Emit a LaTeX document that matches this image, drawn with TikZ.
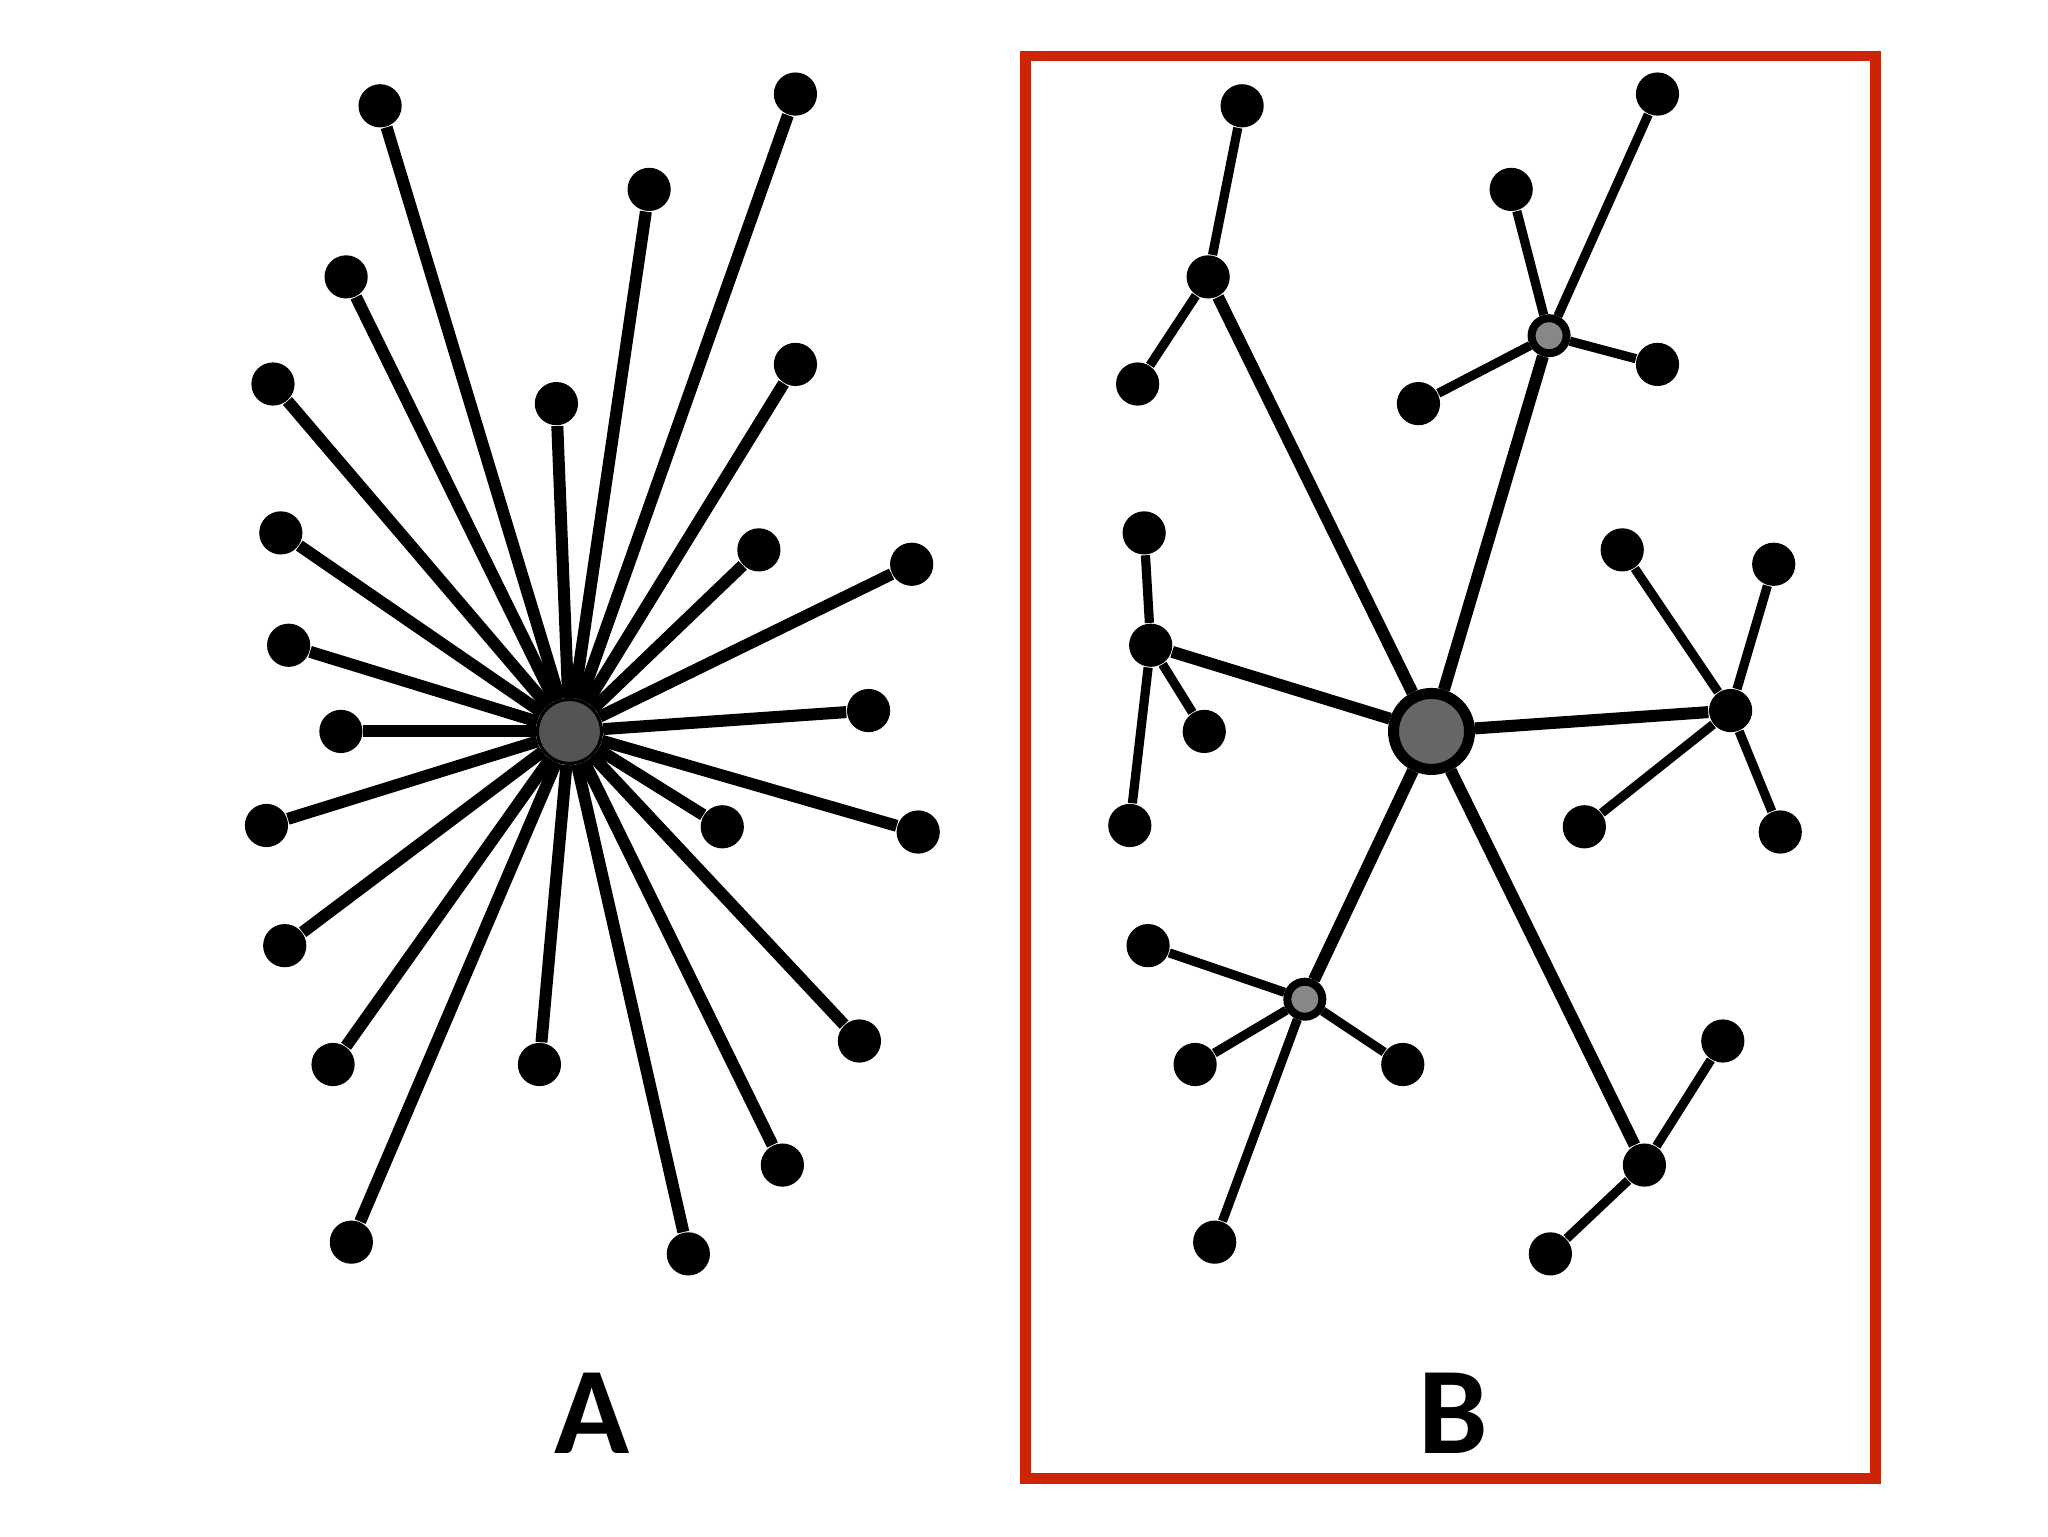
\documentclass[tikz,border=0pt]{standalone}
\usepackage{fontspec}
\setmainfont{Carlito}
\definecolor{frame}{RGB}{204,36,4}
\begin{document}
\begin{tikzpicture}[
    x=0.3265pt, y=-0.3265pt,
    leaf/.style={circle,fill=black,inner sep=0pt,minimum size=10.8pt},
    core/.style={circle,draw=black,line width=0.8pt,fill=black!67,inner sep=0pt,minimum size=16pt},
    hub/.style={circle,draw=black,line width=2.75pt,fill=black!60,inner sep=0pt,minimum size=19pt},
    sub/.style={circle,draw=black,line width=2pt,fill=black!47,inner sep=0pt,minimum size=8.75pt},
    spoke/.style={line width=3pt},
    twig/.style={line width=2.3pt},
    lbl/.style={font=\bfseries\fontsize{31}{31}\selectfont}
]
\useasboundingbox (0,0) rectangle (1568,1176);
% A: every node tied to one centre
\node[core] (a) at (436,560) {};
\foreach \x/\y [count=\i] in {291/81,609/72,497/145,265/212,209/294,426/309,609/279,
    215/408,581/421,698/432,221/494,665/544,261/560,204/632,553/633,703/637,
    218/724,658/797,255/815,413/815,599/892,269/951,527/960} {
  \node[leaf] (a\i) at (\x,\y) {};
  \draw[spoke] (a) -- (a\i);
}
\node[lbl] (labA) at (453,1082) {A};

% B: centre, six local hubs, their leaves
\draw[draw=frame,line width=2.6pt] (785,43) rectangle (1436,1132);
\node[hub] (b) at (1096,560) {};
\node[leaf] (h1) at (925,212) {};
\node[sub] (h2) at (1186,257) {};
\node[leaf] (h3) at (881,494) {};
\node[leaf] (h4) at (1325,544) {};
\node[sub] (h5) at (999,765) {};
\node[leaf] (h6) at (1259,892) {};
\foreach \h in {1,...,6}
  \draw[spoke] (b) -- (h\h);

\node[leaf] (l11) at (951,81) {};
\node[leaf] (l12) at (871,294) {};
\node[leaf] (l21) at (1269,72) {};
\node[leaf] (l22) at (1157,145) {};
\node[leaf] (l23) at (1269,279) {};
\node[leaf] (l24) at (1086,309) {};
\node[leaf] (l31) at (876,408) {};
\node[leaf] (l32) at (922,560) {};
\node[leaf] (l33) at (865,632) {};
\node[leaf] (l41) at (1242,421) {};
\node[leaf] (l42) at (1358,432) {};
\node[leaf] (l43) at (1213,633) {};
\node[leaf] (l44) at (1363,637) {};
\node[leaf] (l51) at (879,724) {};
\node[leaf] (l52) at (915,815) {};
\node[leaf] (l53) at (1074,815) {};
\node[leaf] (l54) at (930,951) {};
\node[leaf] (l61) at (1319,797) {};
\node[leaf] (l62) at (1187,960) {};
\foreach \h/\n in {1/2,2/4,3/3,4/4,5/4,6/2}
  \foreach \k in {1,...,\n}
    \draw[twig] (h\h) -- (l\h\k);
\node[lbl] (labB) at (1113,1082) {B};
\end{tikzpicture}
\end{document}
